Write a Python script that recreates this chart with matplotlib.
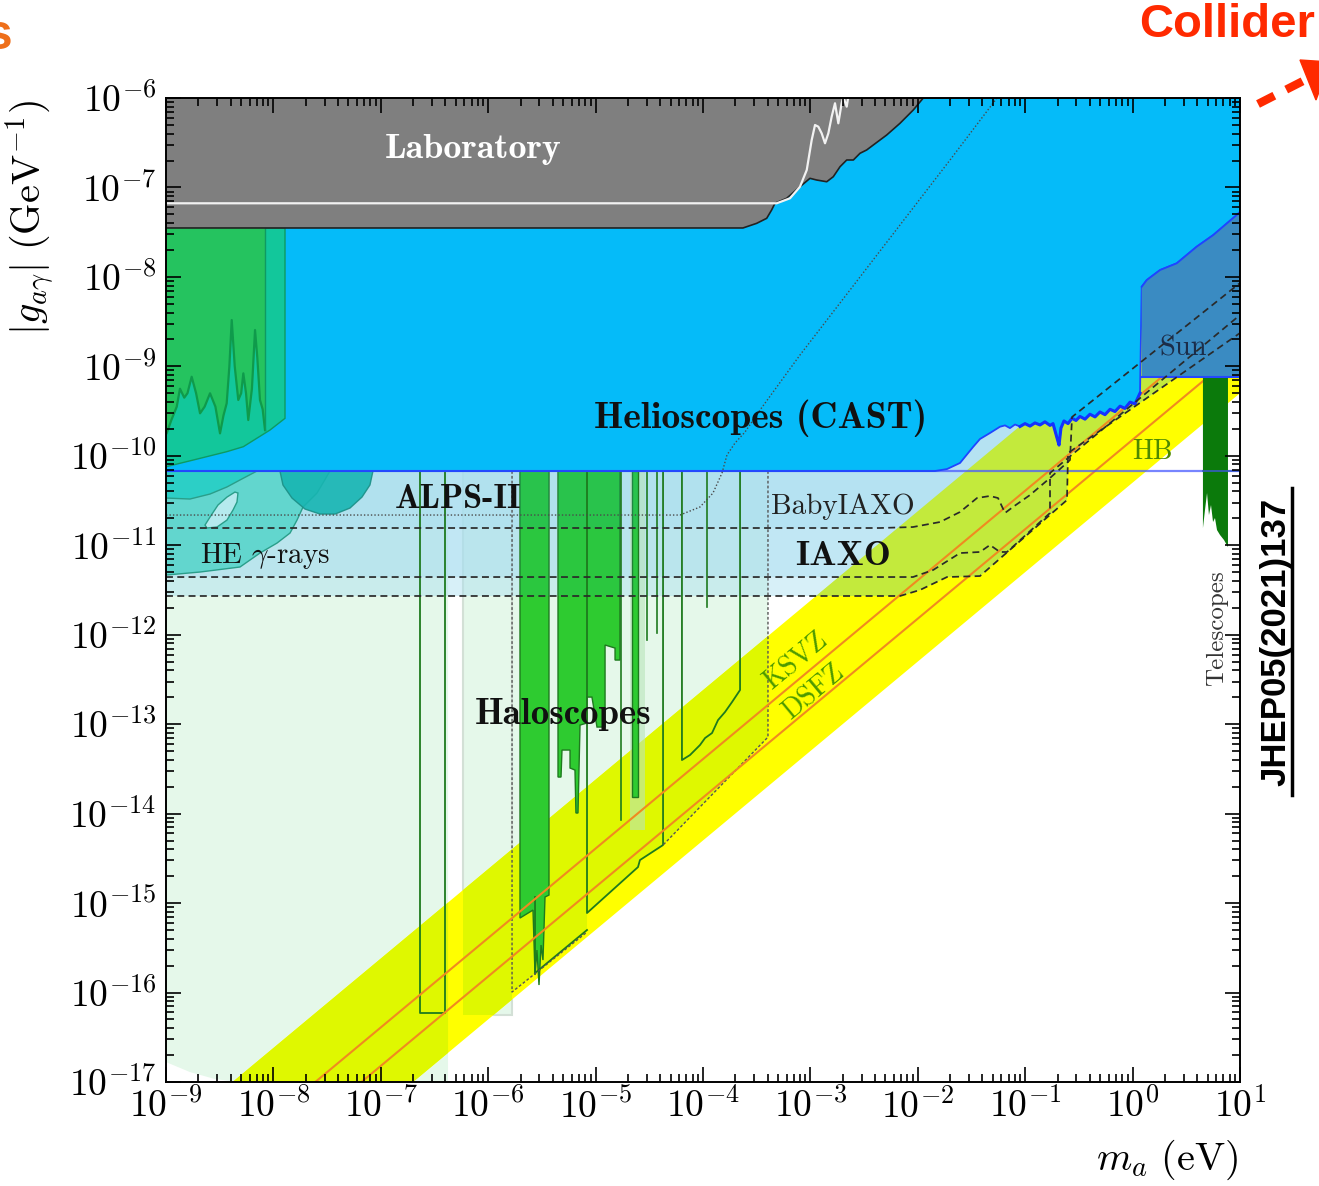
import numpy as np
import matplotlib
matplotlib.use('Agg')
import matplotlib.pyplot as plt
from matplotlib.patches import Polygon
from matplotlib.ticker import LogLocator, NullFormatter, FuncFormatter
from matplotlib.lines import Line2D

plt.rcParams['mathtext.fontset'] = 'cm'

# all curves as log10(m_a / eV), log10(|g| / GeV^-1)

# laboratory bound (lower edge)
lab_m = [-9.0, -3.628, -3.500, -3.407, -3.361, -3.330, -3.221, -3.097, -3.004, -2.941, -2.848,
         -2.787, -2.724, -2.662, -2.600, -2.538, -2.476, -2.414, -2.290, -2.166, -2.042, -1.949]
lab_g = [-7.453, -7.453, -7.401, -7.345, -7.252, -7.177, -7.121, -6.992, -6.898, -6.917, -6.936,
         -6.880, -6.768, -6.693, -6.693, -6.618, -6.581, -6.525, -6.414, -6.283, -6.134, -6.0]
# white curve inside laboratory region
wl_m = [-9.0, -3.314, -3.190, -3.097, -3.034, -2.988, -2.957, -2.926, -2.895, -2.864, -2.833,
        -2.802, -2.771, -2.740, -2.709, -2.694, -2.662, -2.647]
wl_g = [-7.177, -7.177, -7.121, -6.992, -6.805, -6.470, -6.302, -6.321, -6.395, -6.506, -6.395,
        -6.209, -6.059, -6.283, -6.059, -5.985, -6.097, -5.985]

# CAST helioscope (lower edge)
cast_m = [-9.0, -1.840, -1.728, -1.607, -1.486, -1.421, -1.328]
cast_g = [-10.170, -10.170, -10.148, -10.080, -9.902, -9.812, -9.745]
castn_m = [-1.235, -1.188, -1.142, -1.095, -1.048, -1.002, -0.955, -0.909, -0.862, -0.816, -0.769,
           -0.741, -0.704, -0.685, -0.667, -0.639, -0.601, -0.564, -0.527, -0.490, -0.443, -0.397,
           -0.350, -0.304, -0.257, -0.210, -0.164, -0.117, -0.071, -0.024, 0.022, 0.069]
castn_g = [-9.675, -9.660, -9.690, -9.650, -9.672, -9.640, -9.668, -9.632, -9.655, -9.620, -9.660,
           -9.640, -9.800, -9.880, -9.690, -9.610, -9.640, -9.580, -9.605, -9.560, -9.590, -9.535,
           -9.565, -9.510, -9.540, -9.480, -9.505, -9.445, -9.470, -9.400, -9.420, -9.300]
sun_m = [0.085, 0.132, 0.256, 0.411, 0.597, 0.751, 0.969, 1.0]
sun_g = [-8.110, -8.035, -7.923, -7.848, -7.662, -7.532, -7.308, -7.274]
sun_floor = -9.119
hb_g = -10.170

# helioscope projections
baby_m = [-9.0, -2.352, -2.045, -1.793, -1.607, -1.449, -1.328, -1.253, -1.188, -1.114, -0.955,
          -0.769, -0.583, -0.564, 1.0]
baby_g = [-10.807, -10.807, -10.796, -10.740, -10.628, -10.472, -10.449, -10.472, -10.639, -10.572,
          -10.438, -10.248, -10.047, -9.566, -8.068]
iaxo_m = [-9.0, -2.045, -1.858, -1.607, -1.421, -1.328, -1.235, -1.169, -0.769, -0.769, 1.0]
iaxo_g = [-11.355, -11.355, -11.277, -11.087, -11.075, -10.997, -11.075, -11.075, -10.639, -10.192, -8.426]
iaxop_m = [-9.0, -2.166, -1.980, -1.728, -1.421, -0.611, -0.601, 1.0]
iaxop_g = [-11.567, -11.567, -11.500, -11.355, -11.344, -10.494, -9.969, -8.627]
alps_m = [-9.0, -4.214, -4.028, -3.907, -3.823, -3.777, -3.702, -3.609, -3.469, -3.097, -2.631,
          -2.166, -1.700, -1.263]
alps_g = [-10.662, -10.662, -10.572, -10.416, -10.192, -9.991, -9.857, -9.734, -9.488, -8.873,
          -8.146, -7.420, -6.693, -6.0]

# haloscope projections (light green)
g1_m = [-9.0, -6.374, -6.374, -8.339, -8.544, -8.777, -9.0]
g1_g = [-10.170, -10.170, -17.0, -17.0, -16.967, -16.889, -16.777]
g2_m = [-6.235, -5.778, -5.778, -6.235]
g2_g = [-10.170, -10.170, -16.251, -16.251]
g3_m = [-5.778, -3.395, -3.395, -4.372, -4.587, -4.605, -5.080, -5.080, -5.778]
g3_g = [-10.170, -10.170, -13.144, -14.351, -14.519, -14.597, -15.111, -15.301, -15.994]

# QCD axion band and models
band_m = [-9.0, 1.0]
band_hi = [-17.62, -7.62]
band_lo = [-19.30, -9.30]
ksvz_g = [-18.39, -8.39]
dsfz_g = [-18.82, -8.82]

# haloscope exclusions
barA_m = [-5.704, -5.434, -5.434, -5.471, -5.490, -5.508, -5.527, -5.546, -5.564, -5.583, -5.704]
barA_g = [-10.170, -10.170, -14.910, -14.932, -15.637, -15.469, -15.916, -15.525, -15.804, -15.078, -15.167]
barBC_m = [-5.350, -4.773, -4.773, -4.819, -4.819, -4.912, -4.912, -4.987, -5.034, -5.080, -5.080,
           -5.145, -5.164, -5.183, -5.192, -5.238, -5.238, -5.313, -5.322, -5.350]
barBC_g = [-10.170, -10.170, -12.283, -12.283, -12.149, -12.115, -13.032, -13.032, -12.697, -12.697,
           -12.987, -13.010, -13.993, -13.993, -13.513, -13.490, -13.289, -13.289, -13.591, -13.591]
barD_m = [-4.661, -4.605]
barD_g = -13.814
faded_m = [-4.680, -4.540]
faded_g = -14.183
thin_m = [-4.764, -4.521, -4.428, -3.963]
thin_g = [-14.072, -12.059, -11.981, -11.690]
boxA_m = [-6.635, -6.635, -6.402, -6.402]
boxA_g = [-10.170, -16.229, -16.229, -10.170]
boxE_m = [-4.196, -4.196, -4.121, -4.028, -3.981, -3.916, -3.860, -3.795, -3.730, -3.655, -3.655]
boxE_g = [-10.170, -13.401, -13.345, -13.233, -13.155, -13.099, -12.954, -12.864, -12.753, -12.618, -10.170]
boxF_m = [-5.080, -5.080, -4.605, -4.587, -4.372, -4.372]
boxF_g = [-10.170, -15.111, -14.597, -14.519, -14.351, -10.170]
boxG_m = [-5.564, -5.564, -5.080]
boxG_g = [-14.932, -15.782, -15.301]
dashH_m = [-5.778, -5.778, -5.080]
dashH_g = [-10.170, -15.994, -15.324]
dashI_m = [-3.395, -3.395, -4.372]
dashI_g = [-10.170, -13.144, -14.351]

# low-mass haloscope block (top left)
tl_teal_m = [-9.0, -7.892, -7.892, -8.032, -8.280, -8.435, -8.746, -9.0]
tl_teal_g = [-7.453, -7.453, -9.581, -9.712, -9.898, -9.954, -10.047, -10.122]
nz_m = [-8.078, -8.100, -8.125, -8.150, -8.171, -8.200, -8.234, -8.255, -8.280, -8.300, -8.327,
        -8.360, -8.388, -8.410, -8.435, -8.465, -8.497, -8.540, -8.590, -8.640, -8.683, -8.720,
        -8.761, -8.800, -8.830, -8.870, -8.900, -8.950, -8.993]
nz_g = [-9.712, -9.480, -9.376, -8.900, -8.594, -9.250, -9.600, -9.300, -9.078, -9.300, -9.376,
        -9.000, -8.482, -9.000, -9.413, -9.550, -9.749, -9.450, -9.301, -9.450, -9.525, -9.300,
        -9.116, -9.300, -9.350, -9.250, -9.451, -9.600, -9.745]

# high-energy gamma rays
he_m = [-9.0, -7.473, -7.594, -7.724, -7.780, -7.845, -7.966, -8.125, -8.311, -8.683, -9.0]
he_g = [-10.170, -10.170, -10.416, -10.572, -10.718, -10.863, -10.975, -11.087, -11.243, -11.299, -11.333]
med_m = [-9.0, -8.153, -8.311, -8.432, -8.590, -8.777, -9.0]
med_g = [-10.170, -10.170, -10.270, -10.348, -10.427, -10.483, -10.472]
blob_m = [-8.637, -8.590, -8.516, -8.432, -8.358, -8.330, -8.339, -8.376, -8.432, -8.525, -8.618]
blob_g = [-10.774, -10.684, -10.550, -10.461, -10.405, -10.416, -10.517, -10.606, -10.718, -10.796, -10.807]
dt_m = [-7.939, -7.911, -7.827, -7.706, -7.566, -7.426, -7.287, -7.175, -7.101, -7.073]
dt_g = [-10.170, -10.326, -10.472, -10.595, -10.651, -10.651, -10.584, -10.461, -10.326, -10.170]

# telescopes
tel_m = [0.655, 0.888, 0.888, 0.851, 0.814, 0.786, 0.767, 0.749, 0.730, 0.711, 0.693, 0.674, 0.655]
tel_g = [-9.119, -9.119, -11.020, -10.941, -10.885, -10.830, -10.695, -10.740, -10.550, -10.662,
         -10.416, -10.606, -10.807]


def e(a):
    return 10.0 ** np.asarray(a, dtype=float)


W, H = 1319, 1186
fig = plt.figure(figsize=(W / 100, H / 100), dpi=100)
ax = fig.add_axes([166 / W, 1 - 1082 / H, 1074 / W, 984 / H])
ax.set_xscale('log')
ax.set_yscale('log')
ax.set_xlim(1e-9, 1e1)
ax.set_ylim(1e-17, 1e-6)

top = -6.0
halo_light = '#e5f8ea'

# haloscope projections
for mm, gg in [(g1_m, g1_g), (g2_m, g2_g), (g3_m, g3_g)]:
    ax.fill(e(mm), e(gg), color=halo_light, lw=0, zorder=1)
ax.fill(e(g2_m), e(g2_g), facecolor='none', edgecolor='#d3e0d6', lw=1.5, zorder=1.1)

# QCD band
band = Polygon(np.column_stack([e(band_m + band_m[::-1]), e(band_hi + band_lo[::-1])]),
               closed=True, facecolor='#ffff00', edgecolor='none', zorder=2)
ax.add_patch(band)
for mm, gg in [(g1_m, g1_g), (g2_m, g2_g), (g3_m, g3_g)]:
    p = ax.fill(e(mm), e(gg), color='#dff800', lw=0, zorder=3)[0]
    p.set_clip_path(band)

# helioscope projections (stacked transparent fills)
proj_c = '#a8def0'
for mm, gg in [(iaxop_m, iaxop_g), (iaxo_m, iaxo_g), (baby_m, baby_g)]:
    ax.fill(e(mm + [1.0, -9.0]), e(gg + [top, top]), color=proj_c, alpha=0.45, lw=0, zorder=5)
p = ax.fill(e(iaxop_m + [1.0, -9.0]), e(iaxop_g + [top, top]), color='#c3ea3c', lw=0, zorder=6)[0]
p.set_clip_path(band)

# haloscope bars and outlines
bar_c = '#2ecb30'
line_c = '#1e7a1e'
ax.fill(e(faded_m + faded_m[::-1]), e([hb_g, hb_g, faded_g, faded_g]), color='#b9e4bb', alpha=0.6, lw=0, zorder=6.2)
ax.fill(e(barA_m), e(barA_g), facecolor=bar_c, edgecolor=line_c, lw=1, zorder=6.3)
ax.fill(e(barBC_m), e(barBC_g), facecolor=bar_c, edgecolor=line_c, lw=1, zorder=6.3)
ax.fill(e(barD_m + barD_m[::-1]), e([hb_g, hb_g, barD_g, barD_g]), facecolor=bar_c, edgecolor=line_c, lw=1, zorder=6.3)
# slight tint of the bars inside the helioscope projections
for mm, gg in [(iaxop_m, iaxop_g), (baby_m, baby_g)]:
    for bm in [barA_m, barBC_m, barD_m]:
        ax.fill(e([min(bm), max(bm), max(bm), min(bm)]), e([hb_g, hb_g, gg[0], gg[0]]),
                color='#1fb0a0', alpha=0.14, lw=0, zorder=6.35)
for xm, yb in zip(thin_m, thin_g):
    ax.plot(e([xm, xm]), e([hb_g, yb]), color=line_c, lw=1.2, zorder=6.4)
for mm, gg in [(boxA_m, boxA_g), (boxE_m, boxE_g), (boxF_m, boxF_g), (boxG_m, boxG_g)]:
    ax.plot(e(mm), e(gg), color=line_c, lw=1.3, zorder=6.4)
for mm, gg in [(dashH_m, dashH_g), (dashI_m, dashI_g)]:
    ax.plot(e(mm), e(gg), color='#555555', lw=1, ls=(0, (2, 1.5)), zorder=6.4)

# KSVZ / DSFZ
ax.plot(e(band_m), e(ksvz_g), color='#f08a20', lw=1.5, zorder=6.5)
ax.plot(e(band_m), e(dsfz_g), color='#f08a20', lw=1.5, zorder=6.5)

# HE gamma-rays
ax.fill(e(he_m), e(he_g), facecolor='#62d6ce', edgecolor='#2a9e8a', lw=1, zorder=7)
ax.fill(e(med_m), e(med_g), facecolor='#2ccfc6', edgecolor='#2a9e8a', lw=1, zorder=7.1)
ax.fill(e(blob_m), e(blob_g), facecolor='#b5eaee', edgecolor='#2a9e8a', lw=1, zorder=7.2)
ax.fill(e(dt_m), e(dt_g), facecolor='#17b5b2', edgecolor='#1b8f86', lw=1, alpha=0.9, zorder=7.3)

# HB line
ax.plot(e([-9.0, 1.0]), e([hb_g, hb_g]), color='#4a5cff', lw=1.6, alpha=0.75, zorder=8.5)

# CAST
cm_all = cast_m + castn_m + sun_m
cg_all = cast_g + castn_g + sun_g
ax.fill(e(cm_all + [1.0, -9.0]), e(cg_all + [top, top]), color='#05bbf9', lw=0, zorder=8)
ax.plot(e(cm_all), e(cg_all), color='#1f45ff', lw=1.3, zorder=8.6)
ax.plot(e(castn_m[4:]), e(castn_g[4:]), color='#1432ff', lw=2.2, zorder=8.6)

# Sun
ax.fill(e(sun_m + [1.0, sun_m[0]]), e(sun_g + [sun_floor, sun_floor]), color='#3a8bc2', lw=0, zorder=9)
ax.plot(e(sun_m), e(sun_g), color='#1f45ff', lw=1.3, zorder=9.1)
ax.plot(e([sun_m[0], 1.0]), e([sun_floor, sun_floor]), color='#2448ff', lw=1.5, zorder=9.1)

# top-left haloscope block
ax.fill(e(tl_teal_m), e(tl_teal_g), facecolor='#12c79b', edgecolor='#0e9a62', lw=1, zorder=9)
ax.fill(e([-9.0, -8.078] + nz_m + [-9.0]), e([-7.453, -7.453] + nz_g + [-9.745]),
        color='#25c35f', lw=0, zorder=9.1)
ax.plot(e(nz_m), e(nz_g), color='#0f9a4b', lw=1.6, zorder=9.2)
ax.plot(e([-8.078, -8.078]), e([-7.453, -9.712]), color='#0e9a62', lw=1, zorder=9.2)

# telescopes
ax.fill(e(tel_m), e(tel_g), color='#0b7a0b', lw=0, zorder=9)
ax.plot(e([0.655, 1.0]), e([hb_g, hb_g]), color='#3a5ad0', lw=1.4, alpha=0.8, zorder=9.3)

# laboratory
ax.fill(e(lab_m + [-9.0]), e(lab_g + [top]), color='#7f7f7f', lw=0, zorder=10)
ax.plot(e(lab_m), e(lab_g), color='#222222', lw=1.2, zorder=10.2)
ax.plot(e(wl_m), e(wl_g), color='#f2f2f2', lw=1.6, zorder=10.3)

# projection outlines
dash = (0, (4, 2.5))
for mm, gg in [(baby_m, baby_g), (iaxo_m, iaxo_g), (iaxop_m, iaxop_g)]:
    ax.plot(e(mm), e(gg), color='#2a2a2a', lw=1.25, ls=dash, zorder=11)
ax.plot(e(alps_m), e(alps_g), color='#4a4a4a', lw=1.0, ls=(0, (1, 1.5)), zorder=11)


# labels
def lab(x, y, s, **kw):
    ax.text(10 ** x, 10 ** y, s, ha='center', va='center', zorder=12, **kw)


lab(-6.142, -6.581, 'Laboratory', family='cmb10', fontsize=26, color='white')
lab(-3.460, -9.577, 'Helioscopes (CAST)', family='cmb10', fontsize=27, color='#111111')
lab(-6.281, -10.483, 'ALPS-II', family='cmb10', fontsize=24.5, color='#111111')
lab(-8.078, -11.120, r'HE $\gamma$-rays', family='cmr10', fontsize=21, color='#111111')
lab(-2.696, -10.572, 'BabyIAXO', family='cmr10', fontsize=21, color='#222222')
lab(-2.696, -11.131, 'IAXO', family='cmb10', fontsize=26, color='#111111')
lab(-5.304, -12.887, 'Haloscopes', family='cmb10', fontsize=26.5, color='#111111')
lab(-3.14, -12.30, 'KSVZ', family='cmr10', fontsize=20, color='#4d9a00', rotation=39.8, rotation_mode='anchor')
lab(-2.97, -12.64, 'DSFZ', family='cmr10', fontsize=20, color='#4d9a00', rotation=39.8, rotation_mode='anchor')
lab(0.181, -9.958, 'HB', family='cmr10', fontsize=20, color='#4d8a00')
lab(0.469, -8.795, 'Sun', family='cmr10', fontsize=20.5, color='#1b2d4a')
lab(0.786, -11.925, 'Telescopes', family='cmr10', fontsize=18, color='#333333', rotation=90)

# axes style
ax.xaxis.set_major_locator(LogLocator(base=10, numticks=20))
ax.yaxis.set_major_locator(LogLocator(base=10, numticks=20))
ax.xaxis.set_minor_locator(LogLocator(base=10, subs=np.arange(2, 10), numticks=20))
ax.yaxis.set_minor_locator(LogLocator(base=10, subs=np.arange(2, 10), numticks=20))
dec_fmt = FuncFormatter(lambda v, pos: r'$10^{%d}$' % int(round(np.log10(v))))
ax.xaxis.set_major_formatter(dec_fmt)
ax.yaxis.set_major_formatter(dec_fmt)
ax.xaxis.set_minor_formatter(NullFormatter())
ax.yaxis.set_minor_formatter(NullFormatter())
ax.tick_params(which='both', direction='in', top=True, right=True, labelsize=27, width=1.2)
ax.tick_params(which='major', length=11)
ax.tick_params(axis='y', which='major', pad=7)
ax.tick_params(axis='x', which='major', pad=5)
ax.tick_params(which='minor', length=6)
ax.xaxis.set_zorder(30)
ax.yaxis.set_zorder(30)
for s in ax.spines.values():
    s.set_zorder(31)
    s.set_linewidth(1.4)

fig.text(30 / W, 1 - 218 / H, r'$|g_{a\gamma}|\ (\mathrm{GeV}^{-1})$', rotation=90,
         ha='center', va='center', fontsize=29)
fig.text(1167 / W, 1 - 1160 / H, r'$m_a\ (\mathrm{eV})$', ha='center', va='center', fontsize=29)

# slide annotations
fig.text(1315 / W, 1 - 25 / H, 'Collider', ha='right', va='center', fontsize=34,
         fontweight='bold', family='Liberation Sans', color='#ff2a00')
fig.text(12 / W, 1 - 36 / H, 's', ha='right', va='center', fontsize=36,
         fontweight='bold', family='Liberation Sans', color='#ee6f1a')
fig.text(1276 / W, 1 - 642 / H, 'JHEP05(2021)137', rotation=90, ha='center', va='center',
         fontsize=25, fontweight='bold', family='Liberation Sans', color='black')
fig.add_artist(Line2D([1292 / W, 1292 / W], [1 - 795 / H, 1 - 488 / H], color='black', lw=2.5))
fig.add_artist(Line2D([1258 / W, 1305 / W], [1 - 104 / H, 1 - 80 / H], color='#ff2a00', lw=6,
                      ls=(0, (2.2, 1.6))))
fig.add_artist(Polygon([[1300 / W, 1 - 60 / H], [1330 / W, 1 - 62 / H], [1316 / W, 1 - 100 / H]],
                       closed=True, color='#ff2a00', transform=fig.transFigure))

fig.savefig('out.png', dpi=100)
